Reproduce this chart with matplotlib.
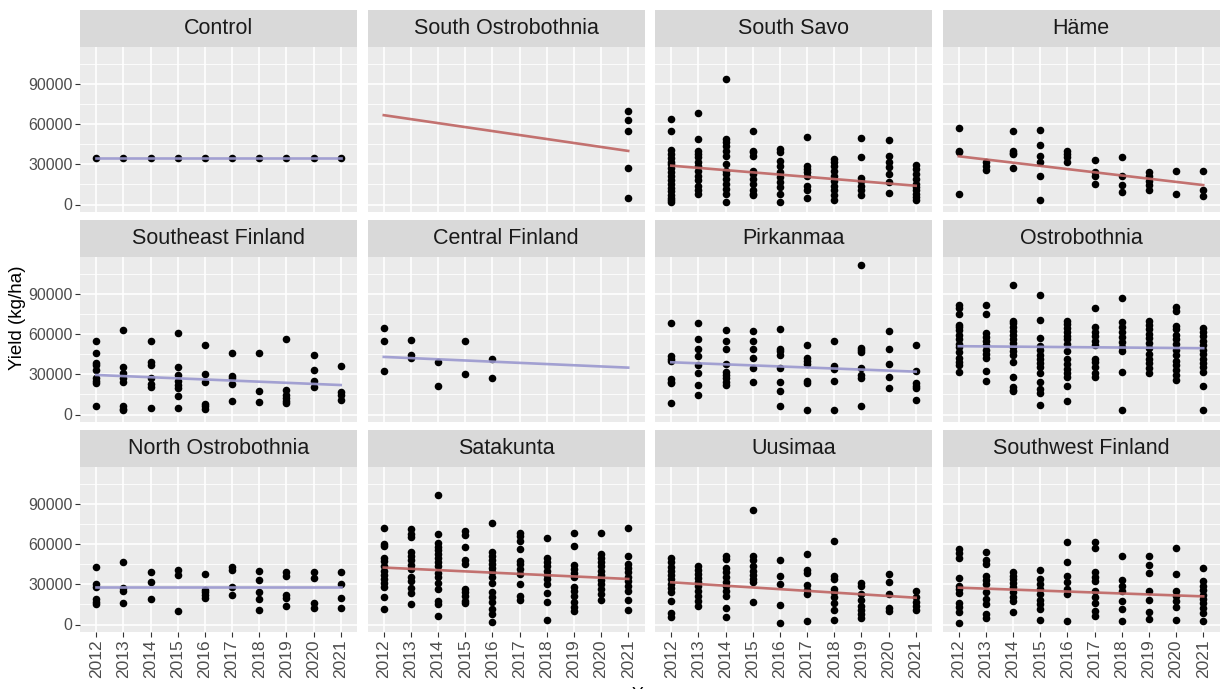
import matplotlib.pyplot as plt

plt.rcParams['font.family'] = ['Liberation Sans', 'DejaVu Sans']

years = [2012, 2013, 2014, 2015, 2016, 2017, 2018, 2019, 2020, 2021]

regions = ["Control", "South Ostrobothnia", "South Savo", "Häme",
           "Southeast Finland", "Central Finland", "Pirkanmaa", "Ostrobothnia",
           "North Ostrobothnia", "Satakunta", "Uusimaa", "Southwest Finland"]

# yields (kg/ha) per year, 2012 ... 2021
control = [[35000], [35000], [35000], [35000], [35000],
           [35000], [35000], [35000], [35000], [35000]]

south_ostrobothnia = [[], [], [], [], [], [], [], [], [],
                      [70000, 63000, 55000, 27000, 5000]]

south_savo = [
    [64000, 55000, 41000, 38000, 35000, 32000, 30000, 27000, 24000, 21000, 18000, 15000, 12000, 10000, 7000, 5000, 3000, 1500],
    [68000, 49000, 40000, 38000, 35500, 32000, 29000, 25000, 21500, 18000, 14000, 10500, 8000],
    [94000, 49000, 46600, 43700, 40000, 36300, 30300, 25000, 23000, 19300, 15500, 11800, 8000, 2000],
    [54800, 40000, 39000, 36000, 25000, 23000, 19000, 15500, 10500, 8000, 7000],
    [41500, 39000, 32500, 29000, 24400, 20700, 17000, 13300, 8000, 2000],
    [50300, 29000, 26600, 24400, 21500, 14000, 10500, 5000],
    [34000, 31800, 29000, 25000, 21500, 17800, 14000, 10500, 7000, 3000],
    [49600, 35500, 20000, 17800, 14000, 10500, 7000],
    [48100, 36300, 31800, 28000, 23000, 17000, 8900],
    [29600, 26600, 23000, 19300, 15500, 13300, 10500, 8000, 5900, 3000],
]

hame = [
    [57000, 40000, 39000, 8000],
    [31800, 29000, 25900],
    [54800, 40000, 38500, 37800, 27400],
    [55500, 44400, 36300, 31800, 21500, 3700],
    [40000, 37800, 35500, 31800],
    [33300, 24400, 21500, 15500],
    [35500, 21500, 14800, 9600],
    [24400, 21500, 17800, 14800, 10500],
    [25200, 8000],
    [25200, 10500, 6700],
]

southeast_finland = [
    [55000, 46000, 38500, 37000, 33000, 27000, 25000, 23500, 6500],
    [63200, 35200, 30700, 27000, 24600, 6100, 4200, 3200],
    [54800, 39300, 36900, 27000, 22900, 20400, 4900],
    [61000, 35200, 29500, 25300, 22100, 19700, 14000, 4900],
    [52100, 30000, 23900, 8100, 6100, 4400],
    [46000, 28800, 27000, 22900, 10300],
    [46000, 17700, 9300],
    [56600, 18400, 14800, 12300, 10300, 8600],
    [44800, 33200, 25100, 20400],
    [35900, 16700, 14800, 10600],
]

central_finland = [
    [64700, 54600, 32700],
    [55800, 44300, 42500],
    [39300, 21400],
    [54800, 30200],
    [41800, 27500],
    [], [], [], [], [],
]

pirkanmaa = [
    [68100, 43500, 41800, 40100, 26300, 24600, 23400, 8600],
    [68100, 56600, 49200, 43500, 36900, 31200, 22100, 14800],
    [63200, 54800, 49200, 37600, 32000, 29500, 27000, 24600, 22100],
    [62200, 54800, 49200, 42300, 34900, 24600],
    [63900, 49200, 47200, 44800, 34900, 24600, 17700, 6600],
    [52100, 42300, 39800, 37600, 25300, 23400, 3200],
    [54800, 36100, 33700, 25300, 3200],
    [111900, 49900, 48400, 46700, 34900, 29500, 27500, 6600],
    [62000, 49200, 37600, 27800, 19700],
    [52100, 32700, 23400, 21400, 19700, 11100],
]

ostrobothnia = [
    [81600, 79200, 75000, 66900, 65200, 63200, 59000, 56600, 52900, 50400, 46700, 42300, 39300, 36900, 31500],
    [81600, 75000, 60700, 57800, 54800, 51600, 48400, 45500, 42300, 32500, 25100],
    [96900, 70100, 68400, 65200, 62000, 59000, 56600, 53600, 50400, 47200, 44300, 39300, 28300, 20900, 18400, 17200],
    [89000, 70600, 57000, 51100, 48000, 44800, 41800, 38600, 35200, 30700, 24600, 18900, 16000, 7400],
    [70100, 67600, 64400, 61500, 58500, 56100, 52900, 47200, 41800, 37600, 33900, 30700, 27800, 21400, 9800],
    [79400, 65200, 61500, 58300, 54600, 51600, 41800, 38900, 35200, 30700, 27800],
    [87300, 68900, 65200, 61500, 57800, 54100, 50400, 47200, 32000, 3000],
    [70100, 66900, 63900, 60200, 57000, 53400, 49700, 45500, 41800, 38100, 34400, 30700],
    [79900, 77500, 66400, 63900, 59500, 56100, 52400, 48400, 44300, 40100, 36900, 33200, 29500, 25800],
    [64700, 61500, 58300, 54800, 51600, 48400, 45000, 41800, 38600, 35200, 32000, 21400, 3000],
]

north_ostrobothnia = [
    [43000, 30000, 28000, 19000, 17000, 15000],
    [47000, 27000, 25000, 16000],
    [39000, 32000, 19000],
    [41000, 37000, 10000],
    [38000, 26000, 24000, 22000, 20000],
    [43000, 41000, 28000, 22000],
    [40000, 33000, 24000, 19000, 11000],
    [39000, 36000, 22000, 20000, 14000],
    [39000, 35000, 16000, 12000],
    [39000, 30000, 20000, 12000],
]

satakunta = [
    [72000, 60300, 58300, 49800, 47300, 44000, 40300, 37000, 34000, 31000, 28300, 20800, 11500],
    [71500, 67800, 65300, 54000, 51500, 47800, 44500, 41500, 35800, 32800, 27000, 23500, 15300],
    [96500, 67800, 60800, 57800, 55300, 52800, 49800, 46500, 44000, 38500, 35800, 30800, 26500, 17800, 15300, 6000],
    [69500, 67000, 57800, 47800, 45300, 26500, 24000, 21000, 17800, 16000],
    [76000, 54000, 51500, 48300, 45300, 42000, 39000, 35300, 31000, 24000, 20800, 17000, 11500, 7800, 1500],
    [68300, 65800, 62000, 56500, 47300, 45300, 41500, 37800, 30300, 21500, 18500],
    [64800, 49800, 47000, 44000, 40300, 37300, 34000, 30300, 23300, 16500, 3300],
    [68300, 58500, 44500, 41500, 38300, 35300, 28300, 24800, 21000, 17000, 13300, 9800],
    [68500, 52800, 49800, 46500, 43500, 40300, 37000, 33500, 30300, 26500, 22800, 18500],
    [72300, 51000, 45300, 42000, 39000, 35800, 32300, 29000, 24800, 18300, 10800],
]

uusimaa = [
    [49800, 46500, 43300, 40300, 37000, 34000, 30300, 27300, 24000, 17800, 8500, 5300],
    [44000, 40800, 37800, 34800, 31500, 28500, 25300, 21500, 17800, 14000],
    [51500, 49000, 42000, 39000, 35300, 31500, 28500, 25300, 21500, 12300, 5800],
    [85300, 51500, 47800, 44000, 40300, 37300, 34000, 31500, 16500],
    [47800, 36500, 30300, 14500, 800],
    [52300, 41000, 38300, 29500, 25800, 22800, 2800],
    [62300, 36500, 34000, 26500, 24000, 20300, 16000, 10800, 3300],
    [31000, 29000, 22800, 18500, 14000, 10800, 7800, 4800],
    [37800, 32000, 22800, 12000, 9800],
    [25300, 20800, 17000, 14000, 10800],
]

southwest_finland = [
    [56500, 53300, 49800, 34800, 29000, 26500, 23300, 16000, 12800, 9000, 800],
    [54000, 47800, 45300, 36500, 33300, 30300, 24000, 19000, 15300, 7800, 4500],
    [39000, 36500, 34000, 31000, 27800, 24500, 20800, 17300, 9000],
    [40800, 34000, 30300, 26500, 22800, 18500, 15300, 11500, 3300],
    [61500, 46500, 36500, 31500, 26500, 22800, 2800],
    [61500, 57000, 39000, 35800, 32300, 24800, 20800, 15800, 10300, 6500],
    [50800, 33300, 29000, 25300, 17800, 11500, 2800],
    [51500, 44500, 38300, 24800, 18500, 9000, 4000],
    [57000, 37800, 24800, 21500, 17800, 12800, 3300],
    [42000, 32300, 29000, 25800, 22300, 19000, 15800, 12000, 8500, 2300],
]

panels = [control, south_ostrobothnia, south_savo, hame,
          southeast_finland, central_finland, pirkanmaa, ostrobothnia,
          north_ostrobothnia, satakunta, uusimaa, southwest_finland]

# fitted linear trend, value at 2012 and at 2021
trend_start = [35000, 66700, 29000, 36000, 29500, 43000, 39000, 51000, 28000, 42500, 31500, 27500]
trend_end = [35000, 40000, 14000, 14500, 22000, 35000, 32000, 49500, 28000, 34000, 20000, 21000]
significant = [False, True, True, True, False, False, False, False, False, True, True, True]

W, H = 1225, 689
fig = plt.figure(figsize=(W / 100, H / 100), dpi=100)

col_left = [80, 367.5, 655, 942.5]
row_top = [10, 220, 430]
panel_w = 277
strip_h = 37
panel_h = 165


def fig_box(x, y, w, h):
    return [x / W, 1 - (y + h) / H, w / W, h / H]


for i, (name, data) in enumerate(zip(regions, panels)):
    r, c = divmod(i, 4)
    x0, y0 = col_left[c], row_top[r]

    strip = fig.add_axes(fig_box(x0, y0, panel_w, strip_h))
    strip.set_facecolor('#D9D9D9')
    strip.set_xticks([])
    strip.set_yticks([])
    for s in strip.spines.values():
        s.set_visible(False)
    strip.text(0.5, 0.5, name, ha='center', va='center', fontsize=15.5,
               color='#1A1A1A', transform=strip.transAxes)

    ax = fig.add_axes(fig_box(x0, y0 + strip_h, panel_w, panel_h))
    ax.set_facecolor('#EBEBEB')
    for s in ax.spines.values():
        s.set_visible(False)
    ax.set_axisbelow(True)

    xs, ys = [], []
    for yr, vals in zip(years, data):
        xs += [yr] * len(vals)
        ys += vals
    ax.scatter(xs, ys, s=30, color='black', linewidths=0, zorder=3)

    col = '#BE6462' if significant[i] else '#9A98CF'
    ax.plot([years[0], years[-1]], [trend_start[i], trend_end[i]],
            color=col, lw=1.9, alpha=0.9, zorder=4)

    ax.set_xlim(2011.4, 2021.6)
    ax.set_ylim(-5600, 117600)
    ax.set_xticks(years)
    ax.set_yticks([0, 30000, 60000, 90000])
    ax.set_yticks([15000, 45000, 75000, 105000], minor=True)
    ax.grid(which='major', color='white', lw=1.2)
    ax.grid(which='minor', axis='y', color='white', lw=0.6)
    ax.tick_params(which='minor', length=0)
    ax.tick_params(which='major', length=3.5, width=0.8, color='#333333',
                   labelcolor='#4D4D4D', labelsize=11.5, pad=2)

    if c == 0:
        ax.set_yticklabels(['0', '30000', '60000', '90000'])
    else:
        ax.tick_params(axis='y', left=False, labelleft=False)

    if r == 2:
        ax.set_xticklabels([str(y) for y in years], rotation=90, fontsize=12.5)
    else:
        ax.tick_params(axis='x', bottom=False, labelbottom=False)

fig.text(18 / W, 1 - 318 / H, 'Yield (kg/ha)', rotation=90, ha='center',
         va='center', fontsize=13.5, color='black')
fig.text(649 / W, 1 - 687 / H, 'Year', ha='center', va='top', fontsize=12.5,
         color='black')

fig.savefig('out.png', dpi=100, facecolor='white')
